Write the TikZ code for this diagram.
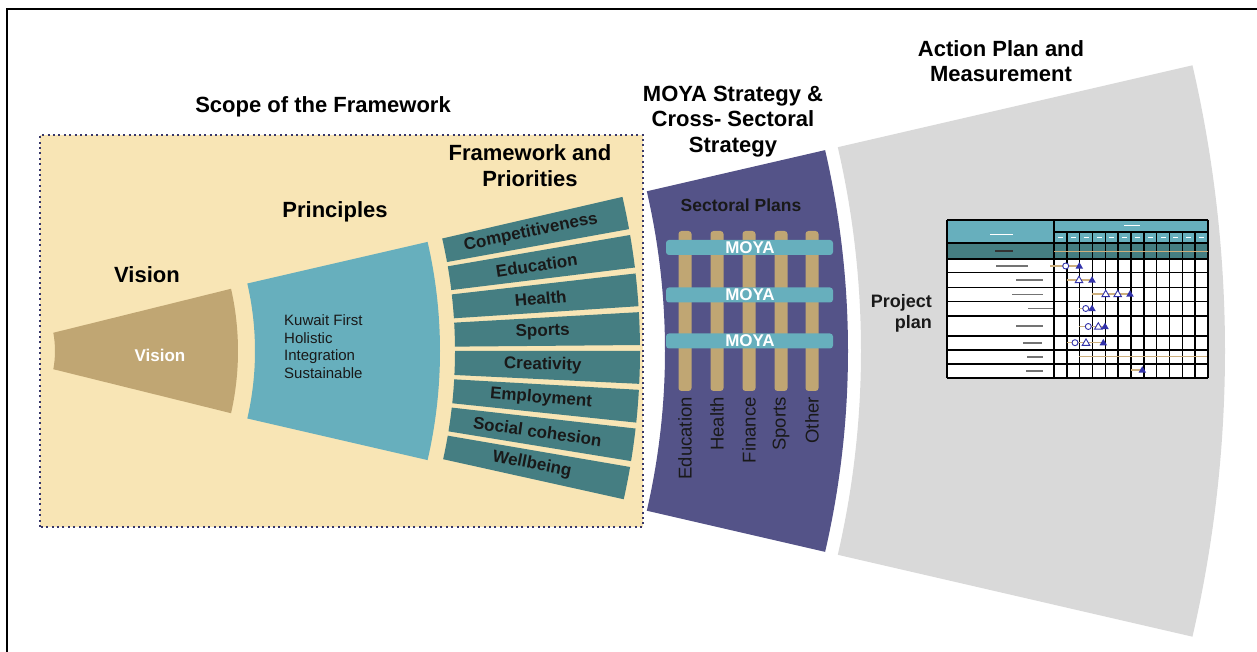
\documentclass[tikz,border=0pt]{standalone}
\usepackage{fontspec}
\setmainfont{Liberation Sans}
\usepackage{tikz}
\usetikzlibrary{positioning,calc}
\definecolor{scopebg}{RGB}{248,229,181}
\definecolor{visiontan}{RGB}{192,166,115}
\definecolor{lightteal}{RGB}{103,175,189}
\definecolor{darkteal}{RGB}{69,126,130}
\definecolor{moyapurple}{RGB}{84,83,136}
\definecolor{actiongray}{RGB}{217,217,217}
\definecolor{dotnavy}{RGB}{55,55,105}
\definecolor{markblue}{RGB}{50,50,170}
\definecolor{gantttan}{RGB}{205,175,125}
\newcommand{\opencirc}[2]{\draw[markblue,fill=white,line width=0.9pt] (#1,#2) circle (3pt);}
\newcommand{\opentri}[2]{\draw[markblue,fill=white,line width=0.9pt] ({#1-3.8},{#2-2.7}) -- ({#1+3.8},{#2-2.7}) -- (#1,{#2+3.8}) -- cycle;}
\newcommand{\fulltri}[2]{\fill[markblue] ({#1-3.8},{#2-2.7}) -- ({#1+3.8},{#2-2.7}) -- (#1,{#2+3.8}) -- cycle;}

\begin{document}
\begin{tikzpicture}[x=1pt,y=1pt,
    title/.style={font=\fontsize{22}{25.5}\selectfont\bfseries,align=center,inner sep=0pt},
    barlabel/.style={font=\fontsize{17}{19}\selectfont\bfseries,text=black!90,inner sep=0pt},
    sectorlabel/.style={font=\fontsize{18.5}{20}\selectfont,text=black!90,rotate=90,anchor=east,inner sep=0pt},
    moyalabel/.style={font=\fontsize{17}{19}\selectfont\bfseries,text=white,inner sep=0pt},
    gridline/.style={line width=1.4pt,black},
    ganttbar/.style={line width=1.2pt,gantttan},
    smudge/.style={line width=1.4pt,black!55}]
\useasboundingbox (0,0) rectangle (1257,652);
% outer frame
\draw[line width=1.5pt] (7,-20) |- (1290,643);
% scope box
\fill[scopebg] (40,125) rectangle (643,517);
\draw[dotnavy,line width=2pt,dash pattern=on 2pt off 3.4pt] (40,125) rectangle (643,517);

% fan around a common centre
\begin{scope}[shift={(-45,301)}]
  \fill[visiontan] (12.7:283) arc[start angle=12.7,end angle=-12.7,radius=283]
    -- (-10.5:100) arc[start angle=-10.5,end angle=10.5,radius=100] -- cycle;
  \fill[lightteal] (13:485) arc[start angle=13,end angle=-13,radius=485]
    -- (-13:300) arc[start angle=-13,end angle=13,radius=300] -- cycle;
  \foreach \lab [count=\i from 0] in {Competitiveness,Education,Health,Sports,Creativity,Employment,Social cohesion,Wellbeing}{
    \pgfmathsetmacro\a{13-3.25*\i}
    \pgfmathsetmacro\b{\a-2.75}
    \pgfmathsetmacro\m{\a-1.375}
    \fill[darkteal] (\a:685) arc[start angle=\a,end angle=\b,radius=685]
      -- (\b:500) arc[start angle=\b,end angle=\a,radius=500] -- cycle;
    \node[barlabel,rotate=\m] (pr\i) at (\m:588) {\lab};
  }
  \fill[moyapurple] (13:893) arc[start angle=13,end angle=-13,radius=893]
    -- (-13:710) arc[start angle=-13,end angle=13,radius=710] -- cycle;
  \fill[actiongray] (13:1270) arc[start angle=13,end angle=-13,radius=1270]
    -- (-13:906) arc[start angle=-13,end angle=13,radius=906] -- cycle;
\end{scope}

% titles
\node[title] (scopetitle) at (323,545) {Scope of the Framework};
\node[title] (visiontitle) at (147,377) {Vision};
\node[title] (princtitle) at (335,440) {Principles};
\node[title] (fwtitle) at (530,486.5) {Framework and\\Priorities};
\node[title] (moyatitle) at (733,530.5) {MOYA Strategy \&\\Cross- Sectoral\\Strategy};
\node[title] (actiontitle) at (1001,591) {Action Plan and\\Measurement};

% vision and principles
\node[font=\fontsize{17}{19}\selectfont\bfseries,text=white] (visiontxt) at (160,297) {Vision};
\node[font=\fontsize{15}{17.7}\selectfont,align=left,anchor=west,inner sep=0pt,text=black!90] (values) at (284,305.5)
  {Kuwait First\\Holistic\\Integration\\Sustainable};

% sectoral plans
\node[font=\fontsize{17.5}{20}\selectfont\bfseries,text=black!90] (sectoral) at (741,447) {Sectoral Plans};
\foreach \x/\lab [count=\i] in {685/Education,717/Health,749/Finance,781/Sports,812/Other}{
  \fill[visiontan,rounded corners=3pt] ({\x-6.5},261) rectangle ({\x+6.5},421);
  \node[sectorlabel] (sec\i) at (\x,255) {\lab};
}
\foreach \y [count=\i] in {404.5,357,311}{
  \fill[lightteal,rounded corners=3pt] (666,{\y-7.5}) rectangle (833,{\y+7.5});
  \node[moyalabel] (moya\i) at (750,\y) {MOYA};
}

% project plan
\node[font=\fontsize{18}{21}\selectfont\bfseries,align=right,anchor=east,inner sep=0pt,text=black!90] (projplan) at (932,338.5) {Project\\plan};
\fill[lightteal] (947,409) rectangle (1208,432);
\fill[darkteal] (947,393) rectangle (1208,409);
\fill[white] (947,274) rectangle (1208,393);
% tiny unreadable entries
\draw[white,line width=0.9pt] (990,418) -- (1013,418) (1124,427) -- (1140,427);
\foreach \k in {0,...,11}
  \draw[white,line width=0.7pt] ({1058+12.83*\k},414.5) -- ({1063+12.83*\k},414.5);
\draw[smudge,black!80] (995,401) -- (1013,401);
\foreach \xa/\xb/\y in {996/1028/386,1016/1043/372,1012/1043/357.5,1028/1053/343.5,1016/1043/326,1023/1042/309,1027/1043/295,1026/1043/281}
  \draw[smudge] (\xa,\y) -- (\xb,\y);
% grid
\foreach \y in {432,409,393,379.7,364.7,350.3,336,316,302,288,274}
  \draw[gridline] (947,\y) -- (1208,\y);
\draw[gridline] (1054,420) -- (1208,420);
\foreach \k in {1,...,11}
  \draw[gridline] ({1054+12.83*\k},420) -- ({1054+12.83*\k},274);
\draw[gridline] (947,432) -- (947,274) (1054,432) -- (1054,274) (1208,432) -- (1208,274);
% bars and milestones
\foreach \xa/\xb/\y in {1054/1208/400.3,1050/1080/386,1067/1092/372,1092/1132/358,1079/1092/343.5,1079/1105.7/325.5,1067/1103/309.3,1079/1207/295.3,1130.7/1143/282}
  \draw[ganttbar] (\xa,\y) -- (\xb,\y);
\opencirc{1065.7}{386} \opencirc{1085.7}{343.5} \opencirc{1088.3}{325.5} \opencirc{1075}{309.3}
\opentri{1079}{372} \opentri{1105.7}{358} \opentri{1117.7}{358} \opentri{1098.3}{325.5} \opentri{1086}{309.3}
\fulltri{1079.3}{386} \fulltri{1092}{372} \fulltri{1130}{358} \fulltri{1092}{343.5}
\fulltri{1105}{325.5} \fulltri{1103.3}{309.3} \fulltri{1142.3}{282}
\end{tikzpicture}
\end{document}
